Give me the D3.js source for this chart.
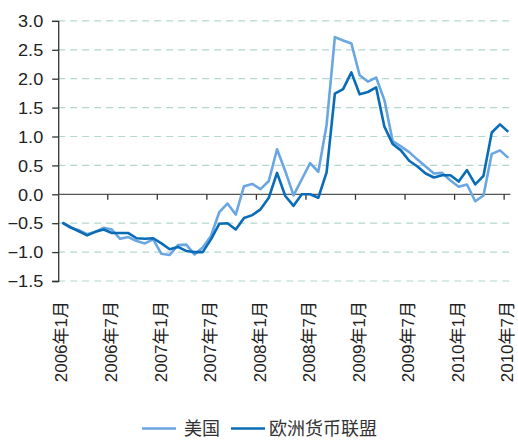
<!DOCTYPE html>
<html><head><meta charset="utf-8">
<script src="https://cdn.jsdelivr.net/npm/d3@7"></script>
<style>
html,body{margin:0;padding:0;background:#fff;}
svg{display:block;font-family:"Liberation Sans","Noto Sans CJK SC",Arial,sans-serif;}
</style></head>
<body>
<svg id="chart" width="518" height="440"></svg>
<script>
const months = [
"2006年1月","2006年2月","2006年3月","2006年4月","2006年5月","2006年6月",
"2006年7月","2006年8月","2006年9月","2006年10月","2006年11月","2006年12月",
"2007年1月","2007年2月","2007年3月","2007年4月","2007年5月","2007年6月",
"2007年7月","2007年8月","2007年9月","2007年10月","2007年11月","2007年12月",
"2008年1月","2008年2月","2008年3月","2008年4月","2008年5月","2008年6月",
"2008年7月","2008年8月","2008年9月","2008年10月","2008年11月","2008年12月",
"2009年1月","2009年2月","2009年3月","2009年4月","2009年5月","2009年6月",
"2009年7月","2009年8月","2009年9月","2009年10月","2009年11月","2009年12月",
"2010年1月","2010年2月","2010年3月","2010年4月","2010年5月","2010年6月",
"2010年7月"];
const tickLabels = ["2006年1月","2006年7月","2007年1月","2007年7月","2008年1月","2008年7月","2009年1月","2009年7月","2010年1月","2010年7月"];
const seriesNames = ["美国","欧洲货币联盟"];
const usValues = [
-0.49,-0.58,-0.62,-0.69,-0.65,-0.58,-0.61,-0.77,-0.74,-0.81,-0.85,-0.78,
-1.03,-1.05,-0.88,-0.87,-1.04,-0.92,-0.72,-0.31,-0.16,-0.35,0.14,0.18,
0.09,0.23,0.78,0.40,-0.02,0.26,0.54,0.39,1.20,2.72,2.66,2.61,
2.06,1.95,2.02,1.63,0.92,0.83,0.73,0.60,0.48,0.36,0.37,0.24,
0.13,0.17,-0.12,-0.02,0.70,0.76,0.63];
const emuValues = [
-0.49,-0.57,-0.64,-0.71,-0.65,-0.61,-0.67,-0.67,-0.67,-0.76,-0.77,-0.76,
-0.85,-0.95,-0.91,-0.98,-1.00,-1.00,-0.78,-0.51,-0.50,-0.61,-0.41,-0.36,
-0.26,-0.06,0.37,-0.03,-0.20,0.00,0.00,-0.06,0.38,1.74,1.82,2.11,
1.73,1.77,1.85,1.17,0.87,0.76,0.58,0.48,0.36,0.29,0.33,0.33,
0.22,0.42,0.17,0.32,1.07,1.21,1.08];
const yTicks = [3.0,2.5,2.0,1.5,1.0,0.5,0.0,-0.5,-1.0,-1.5];

(function(){
const svg = d3.select("#chart");
const pLeft = 58.2, pRight = 512.4, pTop = 20.9, pBottom = 281;
const colors = ["#6aa6e2","#0a6cb6"];

const x = d3.scaleBand().domain(months).range([pLeft, pRight]).padding(0);
const y = d3.scaleLinear().domain([-1.5, 3]).range([pBottom, pTop]);
const cx = m => x(m) + x.bandwidth()/2;

// gridlines
svg.append("g").selectAll("line").data(yTicks.filter(d => d !== 0)).join("line")
  .attr("x1", pLeft).attr("x2", pRight - 1)
  .attr("y1", d => y(d)).attr("y2", d => y(d))
  .attr("stroke", "#b2d8cf").attr("stroke-width", 1.2)
  .attr("stroke-dasharray", "7,5");

// y axis
const yAxis = d3.axisLeft(y).tickValues(yTicks).tickSize(6).tickFormat(d3.format(".1f"));
const gy = svg.append("g").attr("transform", `translate(${pLeft},0)`).call(yAxis);
gy.select(".domain").attr("stroke", "#333").attr("stroke-width", 1.3);
gy.selectAll(".tick line").attr("stroke", "#333").attr("stroke-width", 1.3);
gy.selectAll(".tick text").remove();
gy.selectAll(".tick").append("g")
  .attr("transform", "translate(-15,0) scale(1.13,1)")
  .append("text")
  .attr("text-anchor", "end").attr("dy", "0.36em")
  .attr("fill", "#222").attr("font-size", "16px")
  .text(d => d3.format(".1f")(d));

// x axis at zero (ticks at category boundaries every 6 months)
const tickIdx = tickLabels.map(t => months.indexOf(t));
const gx = svg.append("g");
gx.append("line").attr("x1", pLeft).attr("x2", pRight - 2)
  .attr("y1", y(0)).attr("y2", y(0)).attr("stroke", "#555").attr("stroke-width", 1.3);
gx.selectAll("line.tk").data(tickIdx.filter(i => i > 0)).join("line").attr("class","tk")
  .attr("x1", i => x(months[i])).attr("x2", i => x(months[i]))
  .attr("y1", y(0)).attr("y2", y(0) + 5.5)
  .attr("stroke", "#333").attr("stroke-width", 1.3);

// x labels
svg.append("g").selectAll("text").data(tickLabels).join("text")
  .attr("transform", d => `translate(${cx(d) - 1},301) rotate(-90)`)
  .attr("text-anchor", "end").attr("dy", "0.36em")
  .attr("fill", "#222").attr("font-size", "17px")
  .text(d => d);

// lines
const line = d3.line().x((d, i) => cx(months[i])).y(d => y(d));
[usValues, emuValues].forEach((vals, k) => {
  svg.append("path").datum(vals)
    .attr("fill", "none").attr("stroke", colors[k]).attr("stroke-width", 2.6)
    .attr("stroke-linejoin", "round").attr("d", line);
});

// legend
const leg = [{x1:142, x2:176, tx:184}, {x1:231, x2:265, tx:269}];
const lg = svg.append("g");
seriesNames.forEach((n, k) => {
  lg.append("line").attr("x1", leg[k].x1).attr("x2", leg[k].x2)
    .attr("y1", 428.5).attr("y2", 428.5).attr("stroke", colors[k]).attr("stroke-width", 2.6);
  lg.append("text").attr("x", leg[k].tx).attr("y", 428.5).attr("dy", "0.36em")
    .attr("fill", "#333").attr("font-size", "18px").text(n);
});
})();
</script>
</body></html>
